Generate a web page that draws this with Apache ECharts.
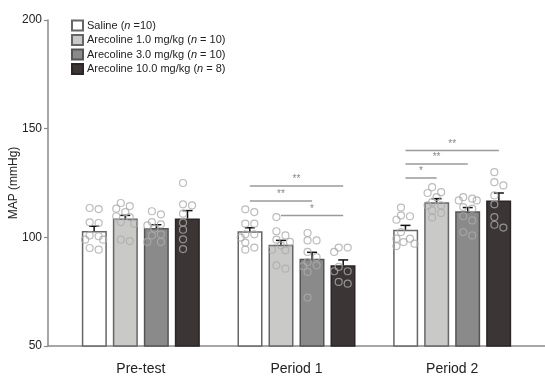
<!DOCTYPE html>
<html><head><meta charset="utf-8">
<script src="https://cdn.jsdelivr.net/npm/echarts@6/dist/echarts.min.js"></script>
<style>html,body{margin:0;padding:0;background:#fff}#c{width:545px;height:378px}</style>
</head><body><div id="c"></div>
<script>
const categories = ['Pre-test', 'Period 1', 'Period 2'];
const seriesNames = ['Saline', 'Arecoline 1.0 mg/kg', 'Arecoline 3.0 mg/kg', 'Arecoline 10.0 mg/kg'];
const seriesN = ['=10', '= 10', '= 10', '= 8'];
const yTicks = [50, 100, 150, 200];

const salineMean = [102.9, 102.8, 103.5];
const are1Mean = [108.7, 96.6, 116.2];
const are3Mean = [104.3, 90.2, 112.0];
const are10Mean = [108.7, 87.1, 116.9];

const salineSem = [2.2, 1.6, 2.0];
const are1Sem = [1.4, 2.0, 1.6];
const are3Sem = [1.5, 2.9, 1.7];
const are10Sem = [3.6, 2.5, 3.5];

const salinePoints = [
  [113.5, 113.0, 106.9, 106.6, 100.9, 100.5, 98.9, 98.9, 95.1, 94.3],
  [112.9, 111.6, 106.3, 106.3, 101.4, 101.4, 99.9, 97.6, 95.3, 94.3],
  [113.7, 110.1, 109.7, 108.1, 102.4, 99.4, 99.4, 97.8, 97.1, 96.0]
];
const are1Points = [
  [115.8, 114.4, 113.2, 111.6, 109.7, 109.3, 107.0, 106.3, 98.9, 98.3],
  [109.3, 102.8, 100.9, 98.9, 97.9, 96.3, 94.3, 94.0, 87.1, 85.6],
  [123.1, 120.8, 120.4, 118.5, 116.2, 114.7, 114.7, 112.4, 111.2, 109.1]
];
const are3Points = [
  [112.0, 110.6, 107.0, 106.0, 105.5, 104.0, 101.4, 100.9, 97.9, 97.9],
  [102.0, 98.6, 98.6, 93.3, 90.9, 88.6, 87.1, 86.7, 84.1, 72.3],
  [118.5, 117.8, 117.0, 117.0, 113.9, 113.2, 109.7, 107.8, 102.4, 100.9]
];
const are10Points = [
  [125.0, 115.2, 114.7, 110.9, 106.8, 103.5, 99.1, 94.6],
  [95.3, 95.3, 93.3, 86.4, 84.4, 84.4, 79.5, 78.7],
  [130.0, 125.4, 123.9, 119.3, 115.2, 109.3, 105.8, 104.5]
];

// significance brackets: [category index, from series, to series, height, label]
const brackets = [
  [1, 0, 3, 123.6, '**'],
  [1, 0, 2, 116.7, '**'],
  [1, 1, 3, 110.1, '*'],
  [2, 0, 3, 140.0, '**'],
  [2, 0, 2, 133.7, '**'],
  [2, 0, 1, 127.3, '*']
];

const means = [salineMean, are1Mean, are3Mean, are10Mean];
const sems = [salineSem, are1Sem, are3Sem, are10Sem];
const points = [salinePoints, are1Points, are3Points, are10Points];
const fills = ['#ffffff', '#c9cac8', '#8a8a8a', '#3b3535'];
const borders = ['#666666', '#666666', '#555555', '#2a2626'];
const FONT = "'Liberation Sans', Arial, sans-serif";
const SLOT = 0.2; // bar pitch as fraction of a category

function slotX(cat, s) { return cat + (s - 1.5) * SLOT; }

const chart = echarts.init(document.getElementById('c'), null, {renderer: 'canvas'});

const barSeries = seriesNames.map((name, s) => ({
  name: name, type: 'bar', xAxisIndex: 1, yAxisIndex: 1,
  barWidth: 25, barGap: '24%', z: 2,
  itemStyle: {color: fills[s], borderColor: borders[s], borderWidth: 1.5},
  data: means[s]
}));

const errData = [];
means.forEach((m, s) => m.forEach((v, c) => errData.push([slotX(c, s), v, sems[s][c]])));

const errSeries = {
  type: 'custom', xAxisIndex: 2, yAxisIndex: 1, z: 3, silent: true,
  data: errData,
  renderItem: function (params, api) {
    const p0 = api.coord([api.value(0), api.value(1)]);
    const p1 = api.coord([api.value(0), api.value(1) + api.value(2)]);
    return {type: 'group', children: [
      {type: 'line', shape: {x1: p0[0], y1: p0[1], x2: p1[0], y2: p1[1]}, style: {stroke: '#111', lineWidth: 1.5}},
      {type: 'line', shape: {x1: p1[0] - 5, y1: p1[1], x2: p1[0] + 5, y2: p1[1]}, style: {stroke: '#111', lineWidth: 1.5}}
    ]};
  }
};

const brData = brackets.map(b => [slotX(b[0], b[1]), slotX(b[0], b[2]), b[3], b[4]]);
const brSeries = {
  type: 'custom', xAxisIndex: 2, yAxisIndex: 1, z: 5, silent: true,
  data: brData,
  encode: {x: [0, 1], y: 2},
  renderItem: function (params, api) {
    const a = api.coord([api.value(0), api.value(2)]);
    const b = api.coord([api.value(1), api.value(2)]);
    const lab = brData[params.dataIndex][3];
    return {type: 'group', children: [
      {type: 'line', shape: {x1: a[0], y1: a[1], x2: b[0], y2: b[1]}, style: {stroke: '#9a9a9a', lineWidth: 1.5}},
      {type: 'text', style: {text: lab, x: (a[0] + b[0]) / 2, y: a[1] - 1.5, align: 'center', verticalAlign: 'bottom', fill: '#888', font: '10px ' + FONT}}
    ]};
  }
};

const option = {
  backgroundColor: '#ffffff',
  animation: false,
  textStyle: {fontFamily: FONT},
  legend: {
    orient: 'vertical', left: 66, top: 14, itemWidth: 11, itemHeight: 10, itemGap: 1.5,
    icon: 'rect',
    data: seriesNames,
    formatter: function (name) {
      const i = seriesNames.indexOf(name);
      return name + ' ({i|n} ' + seriesN[i] + ')';
    },
    textStyle: {fontSize: 11, lineHeight: 13, color: '#222', fontFamily: FONT, padding: [0, 0, 0, -1],
      rich: {i: {fontStyle: 'italic', fontSize: 11, lineHeight: 13, color: '#222', fontFamily: FONT}}}
  },
  grid: [
    {left: 48, right: 0, top: 20, bottom: 32, containLabel: false, outerBoundsMode: 'none'},
    {left: 63, right: 15, top: 20, bottom: 32, containLabel: false, outerBoundsMode: 'none'}
  ],
  xAxis: [
    {type: 'value', gridIndex: 0, min: 0, max: 1, show: true,
      axisLine: {show: true, lineStyle: {color: '#8a8a8a', width: 1.5}},
      axisTick: {show: false}, axisLabel: {show: false}, splitLine: {show: false}},
    {type: 'category', gridIndex: 1, data: categories,
      axisLine: {show: false}, axisTick: {show: false},
      axisLabel: {fontSize: 14, color: '#222', margin: 16, fontFamily: FONT}},
    {type: 'value', gridIndex: 1, min: -0.5, max: 2.5, show: false}
  ],
  yAxis: [
    {type: 'value', gridIndex: 0, min: 50, max: 200, interval: 50,
      name: 'MAP (mmHg)', nameLocation: 'middle', nameGap: 28, nameRotate: 90, nameMoveOverlap: false,
      nameTextStyle: {fontSize: 12, color: '#222', fontFamily: FONT},
      axisLine: {show: true, lineStyle: {color: '#8a8a8a', width: 1.5}},
      axisTick: {show: true, inside: false, length: 4, lineStyle: {color: '#8a8a8a', width: 1.2}},
      axisLabel: {fontSize: 12, color: '#222', margin: 6, fontFamily: FONT,
        customValues: yTicks},
      splitLine: {show: false}},
    {type: 'value', gridIndex: 1, min: 50, max: 200, show: false}
  ],
  series: barSeries.concat([errSeries, brSeries])
};

chart.setOption(option);

// beeswarm layout for individual points (computed from pixel geometry)
const pxPerX = chart.convertToPixel({xAxisIndex: 2}, 1) - chart.convertToPixel({xAxisIndex: 2}, 0);
const R = 6.6;
const scatterSeries = points.map((groups, s) => {
  const data = [];
  groups.forEach((vals, c) => {
    const placed = [];
    vals.forEach(v => {
      const py = chart.convertToPixel({yAxisIndex: 1}, v);
      const cands = [-4.5, 4.5, 0, -9, 9, -2, 2, -7, 7];
      let best = cands[0], bestOv = Infinity;
      for (const off of cands) {
        let ov = 0;
        placed.forEach(p => { const d = Math.hypot(p[0] - off, p[1] - py); if (d < R) ov += (R - d); });
        if (ov < bestOv - 0.01) { bestOv = ov; best = off; }
        if (ov === 0) { best = off; break; }
      }
      placed.push([best, py]);
      data.push([slotX(c, s) + best / pxPerX, v]);
    });
  });
  return {
    type: 'scatter', xAxisIndex: 2, yAxisIndex: 1, z: 4, silent: true,
    symbol: 'circle', symbolSize: 7,
    itemStyle: {color: 'rgba(0,0,0,0)', borderColor: '#ababab', borderWidth: 1.2},
    data: data
  };
});

chart.setOption({series: barSeries.concat([errSeries, brSeries]).concat(scatterSeries)});
</script></body></html>
